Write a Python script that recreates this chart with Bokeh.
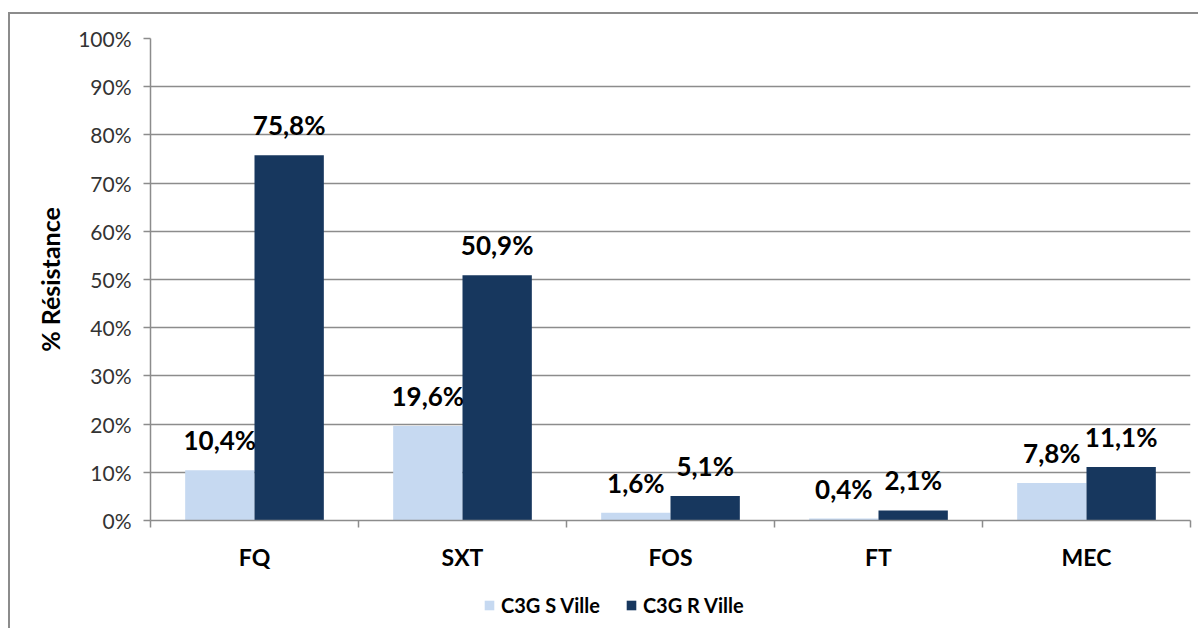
from bokeh.plotting import figure
from bokeh.layouts import column
from bokeh.models import (ColumnDataSource, FixedTicker, PrintfTickFormatter,
                          Legend, LegendItem, Range1d)
from bokeh.transform import dodge
from bokeh.core.properties import value
from bokeh.embed import file_html
from bokeh.resources import INLINE

# ---- data ----
categories = ["FQ", "SXT", "FOS", "FT", "MEC"]
s_ville = [10.4, 19.6, 1.6, 0.4, 7.8]
r_ville = [75.8, 50.9, 5.1, 2.1, 11.1]
series_names = ["C3G S Ville", "C3G R Ville"]
y_ticks = [0, 10, 20, 30, 40, 50, 60, 70, 80, 90, 100]
y_title = "% Résistance"

FONT = "Lato"
LIGHT = "#C6D9F1"
DARK = "#17375E"
GRID = "#8c8c8c"
BORDER = "2px solid #8c8c8c"


def fmt(v):
    return f"{v:.1f}%".replace(".", ",")


x_centers = [i + 0.5 for i in range(len(categories))]
boundaries = list(range(len(categories) + 1))

src = ColumnDataSource(dict(
    x=x_centers, s=s_ville, r=r_ville,
    s_lab=[fmt(v) for v in s_ville],
    r_lab=[fmt(v) for v in r_ville],
))

p = figure(width=1190, height=566,
           x_range=Range1d(0, len(categories)), y_range=Range1d(0, 100),
           output_backend="svg", toolbar_location=None,
           min_border_left=140, min_border_right=10,
           min_border_top=24, min_border_bottom=60)
p.styles = {"border-top": BORDER, "border-left": BORDER}
p.outline_line_color = None
p.background_fill_color = "white"
p.border_fill_color = "white"

# grid
p.xgrid.visible = False
p.ygrid.ticker = FixedTicker(ticks=y_ticks)
p.ygrid.grid_line_color = GRID
p.ygrid.grid_line_width = 1.5

# bars
w = 1 / 3
p.vbar(x=dodge("x", -1 / 6), top="s", width=w, source=src,
       fill_color=LIGHT, line_color=None)
p.vbar(x=dodge("x", 1 / 6), top="r", width=w, source=src,
       fill_color=DARK, line_color=None)

# data labels
for col, lab, off in (("s", "s_lab", -1 / 6), ("r", "r_lab", 1 / 6)):
    p.text(x=dodge("x", off), y=col, text=lab, source=src,
           text_align="center", text_baseline="bottom", y_offset=-14,
           text_font=value(FONT), text_font_style="bold",
           text_font_size="26px", text_color="black")

# y axis
ya = p.yaxis[0]
ya.ticker = FixedTicker(ticks=y_ticks, minor_ticks=[])
ya.formatter = PrintfTickFormatter(format="%d%%")
ya.axis_line_color = GRID
ya.axis_line_width = 1.5
ya.major_tick_line_color = GRID
ya.major_tick_line_width = 1.5
ya.major_tick_out = 7
ya.major_tick_in = 0
ya.minor_tick_line_color = None
ya.major_label_text_font = FONT
ya.major_label_text_font_size = "21px"
ya.major_label_text_color = "#333333"
ya.major_label_standoff = 12
ya.axis_label = y_title
ya.axis_label_text_font = FONT
ya.axis_label_text_font_style = "bold"
ya.axis_label_text_font_size = "25px"
ya.axis_label_text_color = "black"
ya.axis_label_standoff = 10

# x axis
xa = p.xaxis[0]
xa.ticker = FixedTicker(ticks=x_centers, minor_ticks=boundaries)
xa.major_label_overrides = {xc: c for xc, c in zip(x_centers, categories)}
xa.axis_line_color = GRID
xa.axis_line_width = 1.5
xa.major_tick_line_color = None
xa.major_tick_out = 0
xa.major_tick_in = 0
xa.minor_tick_line_color = GRID
xa.minor_tick_line_width = 1.5
xa.minor_tick_out = 7
xa.minor_tick_in = 0
xa.major_label_text_font = FONT
xa.major_label_text_font_style = "bold"
xa.major_label_text_font_size = "23px"
xa.major_label_text_color = "black"
xa.major_label_standoff = 15

# legend strip (separate small figure so the legend is not clipped)
p2 = figure(width=1190, height=50, x_range=Range1d(0, 1), y_range=Range1d(0, 1),
            output_backend="svg", toolbar_location=None,
            min_border_left=0, min_border_right=0,
            min_border_top=0, min_border_bottom=0)
p2.styles = {"border-left": BORDER}
p2.axis.visible = False
p2.grid.visible = False
p2.outline_line_color = None
hidden = ColumnDataSource(dict(x=[-10], top=[-10]))
g1 = p2.vbar(x="x", top="top", width=0.1, source=hidden,
             fill_color=LIGHT, line_color=None)
g2 = p2.vbar(x="x", top="top", width=0.1, source=hidden,
             fill_color=DARK, line_color=None)
legend = Legend(items=[LegendItem(label=series_names[0], renderers=[g1]),
                       LegendItem(label=series_names[1], renderers=[g2])],
                location=(333, 11), orientation="horizontal",
                glyph_width=12, glyph_height=12, label_standoff=6, spacing=25,
                padding=0, margin=0, border_line_color=None,
                background_fill_alpha=0, label_height=20,
                label_text_font=FONT, label_text_font_style="bold",
                label_text_font_size="20px", label_text_color="black")
p2.add_layout(legend, "center")

layout = column(p, p2, spacing=0)
layout.margin = (12, 0, 0, 8)

open("out.html", "w").write(file_html(layout, INLINE))
